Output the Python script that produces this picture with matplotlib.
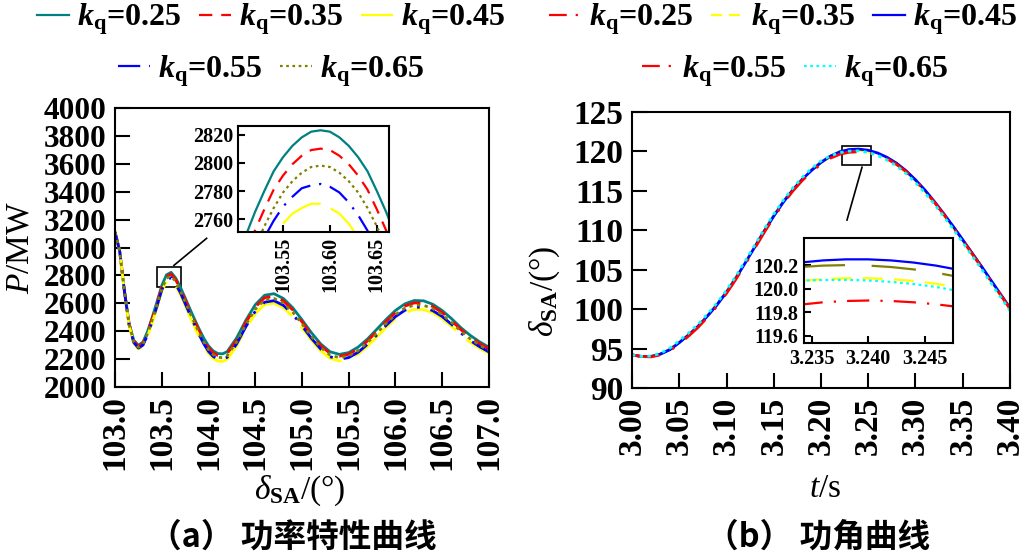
import matplotlib
matplotlib.use('Agg')
import matplotlib.pyplot as plt
from matplotlib.lines import Line2D
from matplotlib.patches import Rectangle

plt.rcParams['font.family'] = ['Liberation Serif', 'Noto Sans CJK SC']
plt.rcParams['mathtext.fontset'] = 'custom'
plt.rcParams['mathtext.rm'] = 'Liberation Serif:bold'
plt.rcParams['mathtext.it'] = 'Liberation Serif:italic'
plt.rcParams['mathtext.bf'] = 'Liberation Serif:italic:bold'

# ---------------- data ----------------
kq = ['0.25', '0.35', '0.45', '0.55', '0.65']

# (a) power characteristic: P (MW) vs delta_SA (deg)
delta_a = [103.00, 103.05, 103.10, 103.15, 103.20, 103.25, 103.30, 103.35, 103.40, 103.45,
           103.50, 103.55, 103.60, 103.65, 103.70, 103.75, 103.80, 103.85, 103.90, 103.95,
           104.00, 104.05, 104.10, 104.15, 104.20, 104.30, 104.40, 104.50, 104.60, 104.70,
           104.80, 104.90, 105.00, 105.10, 105.20, 105.30, 105.40, 105.50, 105.60, 105.70,
           105.80, 105.90, 106.00, 106.10, 106.20, 106.30, 106.40, 106.50, 106.60, 106.70,
           106.80, 106.90, 107.00]
P_025 = [3110, 2977, 2695, 2458, 2336, 2299, 2323, 2402, 2504, 2613, 2727, 2804, 2822, 2780,
         2715, 2639, 2562, 2487, 2415, 2349, 2295, 2259, 2240, 2238, 2254, 2351, 2479, 2590,
         2658, 2669, 2635, 2569, 2482, 2390, 2309, 2253, 2234, 2247, 2286, 2344, 2414, 2485,
         2549, 2596, 2620, 2618, 2593, 2548, 2490, 2425, 2370, 2324, 2285]
P_035 = [3110, 2976, 2692, 2454, 2330, 2291, 2315, 2393, 2494, 2602, 2714, 2791, 2809, 2767,
         2701, 2625, 2548, 2473, 2401, 2335, 2281, 2245, 2226, 2223, 2239, 2336, 2463, 2573,
         2640, 2651, 2618, 2553, 2467, 2376, 2296, 2241, 2221, 2235, 2273, 2330, 2399, 2470,
         2533, 2580, 2603, 2601, 2577, 2533, 2475, 2411, 2357, 2311, 2273]
P_045 = [3110, 2973, 2685, 2442, 2314, 2272, 2293, 2368, 2466, 2571, 2686, 2757, 2768, 2721,
         2661, 2585, 2508, 2433, 2361, 2295, 2241, 2205, 2186, 2183, 2198, 2293, 2418, 2526,
         2591, 2601, 2569, 2507, 2424, 2336, 2259, 2205, 2187, 2199, 2236, 2292, 2359, 2428,
         2489, 2534, 2557, 2555, 2532, 2490, 2435, 2373, 2320, 2277, 2240]
P_055 = [3110, 2974, 2688, 2446, 2320, 2279, 2301, 2377, 2476, 2582, 2696, 2769, 2783, 2738,
         2675, 2599, 2522, 2447, 2375, 2309, 2255, 2219, 2200, 2197, 2213, 2308, 2433, 2543,
         2608, 2619, 2586, 2523, 2439, 2350, 2272, 2217, 2199, 2211, 2249, 2306, 2373, 2442,
         2505, 2550, 2573, 2571, 2547, 2505, 2449, 2387, 2333, 2289, 2251]
P_065 = [3110, 2975, 2690, 2450, 2325, 2285, 2308, 2385, 2485, 2592, 2702, 2779, 2797, 2755,
         2688, 2612, 2535, 2460, 2388, 2322, 2268, 2232, 2213, 2210, 2226, 2322, 2448, 2558,
         2624, 2635, 2602, 2538, 2453, 2363, 2284, 2229, 2210, 2223, 2261, 2318, 2386, 2456,
         2519, 2565, 2588, 2586, 2562, 2519, 2462, 2399, 2345, 2300, 2262]

# (a) inset
delta_in = [103.50, 103.51, 103.52, 103.53, 103.54, 103.55, 103.56, 103.57, 103.58,
            103.59, 103.60, 103.61, 103.62, 103.63, 103.64, 103.65, 103.66, 103.67]
Pin_025 = [2727, 2748, 2765, 2780, 2794, 2804, 2812, 2818, 2822, 2823, 2822, 2818, 2812, 2804, 2794, 2780, 2765, 2748]
Pin_035 = [2714, 2735, 2752, 2767, 2781, 2791, 2799, 2805, 2809, 2810, 2809, 2805, 2799, 2791, 2781, 2767, 2752, 2735]
Pin_045 = [2686, 2705, 2721, 2735, 2747, 2757, 2764, 2768, 2771, 2771, 2768, 2764, 2757, 2747, 2735, 2721, 2705, 2686]
Pin_055 = [2696, 2715, 2732, 2747, 2759, 2769, 2776, 2782, 2784, 2785, 2783, 2779, 2772, 2763, 2752, 2738, 2722, 2704]
Pin_065 = [2702, 2722, 2740, 2755, 2768, 2779, 2787, 2793, 2797, 2798, 2797, 2793, 2787, 2779, 2768, 2755, 2740, 2722]

# (b) power angle curve: delta_SA (deg) vs t (s)
t_b = [3.00, 3.01, 3.02, 3.03, 3.04, 3.05, 3.06, 3.07, 3.08, 3.09, 3.10, 3.11, 3.12, 3.13,
       3.14, 3.15, 3.16, 3.17, 3.18, 3.19, 3.20, 3.21, 3.22, 3.23, 3.24, 3.25, 3.26, 3.27,
       3.28, 3.29, 3.30, 3.31, 3.32, 3.33, 3.34, 3.35, 3.36, 3.37, 3.38, 3.39, 3.40]
d_025 = [94.2, 94.0, 94.0, 94.3, 94.9, 95.8, 96.8, 97.9, 99.2, 100.6, 102.2, 104.0, 105.95,
         107.95, 109.95, 111.85, 113.6, 115.15, 116.5, 117.65, 118.63, 119.41, 119.95, 120.2,
         120.25, 120.1, 119.75, 119.2, 118.45, 117.5, 116.35, 115.05, 113.6, 112.05, 110.43,
         108.75, 107.05, 105.35, 103.6, 101.85, 100.1]
d_035 = [94.2, 94.0, 94.0, 94.3, 94.9, 95.8, 96.8, 97.9, 99.2, 100.6, 102.2, 104.0, 105.95,
         107.95, 109.95, 111.85, 113.6, 115.15, 116.5, 117.65, 118.6, 119.35, 119.85, 120.1,
         120.15, 120.0, 119.65, 119.1, 118.35, 117.4, 116.25, 114.95, 113.5, 111.95, 110.33,
         108.65, 106.95, 105.25, 103.5, 101.75, 100.0]
d_045 = [94.2, 94.0, 94.0, 94.3, 94.85, 95.75, 96.75, 97.85, 99.15, 100.55, 102.15, 103.95,
         105.9, 107.9, 109.9, 111.8, 113.55, 115.1, 116.45, 117.6, 118.6, 119.4, 119.95, 120.25,
         120.3, 120.15, 119.8, 119.25, 118.5, 117.55, 116.4, 115.1, 113.65, 112.1, 110.48,
         108.8, 107.1, 105.4, 103.65, 101.9, 100.15]
d_055 = [94.2, 94.0, 93.95, 94.2, 94.75, 95.6, 96.6, 97.7, 99.0, 100.4, 102.0, 103.8, 105.75,
         107.75, 109.75, 111.65, 113.4, 114.95, 116.3, 117.45, 118.4, 119.15, 119.65, 119.9,
         119.95, 119.85, 119.55, 119.05, 118.35, 117.45, 116.3, 115.0, 113.55, 112.0, 110.38,
         108.7, 107.0, 105.3, 103.55, 101.8, 100.05]
d_065 = [94.2, 94.0, 94.05, 94.4, 95.05, 96.0, 97.0, 98.1, 99.4, 100.8, 102.4, 104.2, 106.15,
         108.15, 110.15, 112.05, 113.8, 115.35, 116.7, 117.85, 118.8, 119.45, 119.85, 120.05,
         120.07, 119.88, 119.49, 118.9, 118.15, 117.2, 116.05, 114.75, 113.3, 111.75, 110.13,
         108.45, 106.75, 105.05, 103.3, 101.55, 99.8]

# (b) inset
t_in = [3.234, 3.236, 3.238, 3.240, 3.242, 3.244, 3.246, 3.248]
din_025 = [120.184, 120.196, 120.200, 120.196, 120.184, 120.164, 120.136, 120.100]
din_035 = [120.066, 120.081, 120.089, 120.089, 120.081, 120.066, 120.042, 120.011]
din_045 = [120.222, 120.240, 120.249, 120.249, 120.240, 120.222, 120.196, 120.160]
din_055 = [119.865, 119.885, 119.896, 119.900, 119.896, 119.885, 119.868, 119.845]
din_065 = [120.068, 120.074, 120.075, 120.070, 120.058, 120.040, 120.015, 119.980]

xticks_a = [103.0, 103.5, 104.0, 104.5, 105.0, 105.5, 106.0, 106.5, 107.0]
yticks_a = [2000, 2200, 2400, 2600, 2800, 3000, 3200, 3400, 3600, 3800, 4000]
xticks_ain = [103.55, 103.60, 103.65]
yticks_ain = [2760, 2780, 2800, 2820]
xticks_b = [3.00, 3.05, 3.10, 3.15, 3.20, 3.25, 3.30, 3.35, 3.40]
yticks_b = [90, 95, 100, 105, 110, 115, 120, 125]
xticks_bin = [3.235, 3.240, 3.245]
yticks_bin = [119.6, 119.8, 120.0, 120.2]

# zoom indicator boxes (data coords) and connector lines
box_a = (103.446, 2719, 0.260, 143)
conn_a = ([103.63, 103.98], [2872, 3066])
box_b = (3.2218, 118.27, 0.0311, 2.43)
conn_b = ([3.2434, 3.2275], [118.0, 111.3])

# ---------------- styles ----------------
sty_a = {
    '0.25': dict(color='#008080', ls='-'),
    '0.35': dict(color='#ff0000', ls=(0, (6, 4))),
    '0.45': dict(color='#ffff00', ls=(0, (20, 5))),
    '0.55': dict(color='#0000ff', ls=(0, (10, 4, 1, 4))),
    '0.65': dict(color='#808000', ls=(0, (1.2, 1.6))),
}
sty_b = {
    '0.25': dict(color='#808000', ls=(0, (20, 12))),
    '0.35': dict(color='#ffff00', ls=(0, (9, 5))),
    '0.45': dict(color='#0000ff', ls='-'),
    '0.55': dict(color='#ff0000', ls=(0, (10, 5, 1, 5))),
    '0.65': dict(color='#00ffff', ls=(0, (1.2, 1.6))),
}
leg_b = {
    '0.25': dict(color='#ff0000', ls=(0, (8, 4, 1, 4))),
    '0.35': dict(color='#ffff00', ls=(0, (5, 3))),
    '0.45': dict(color='#0000ff', ls='-'),
    '0.55': dict(color='#ff0000', ls=(0, (8, 4, 1, 4))),
    '0.65': dict(color='#00ffff', ls=(0, (1.2, 1.6))),
}
LW_MAIN = 2.0
LW_INS = 1.6
TICK_FS = 24
YTICK_FS_A = 22.5
INS_FS = 14.5
LAB_FS = 24

fig = plt.figure(figsize=(10.26, 5.54), dpi=100)
axA = fig.add_axes([0.1121, 0.3014, 0.3645, 0.5036])
axB = fig.add_axes([0.6160, 0.2996, 0.3684, 0.4982])
insA = fig.add_axes([0.2320, 0.5812, 0.1472, 0.1913], zorder=5)
insB = fig.add_axes([0.7836, 0.3809, 0.1452, 0.1895], zorder=5)

def style_axes(ax, length, fs, pad):
    for s in ax.spines.values():
        s.set_linewidth(1.5)
    ax.tick_params(direction='in', length=length, width=1.5, top=False, right=False,
                   labelsize=fs, pad=pad)

# ---- panel (a) ----
series_a = [P_025, P_035, P_045, P_055, P_065]
series_ain = [Pin_025, Pin_035, Pin_045, Pin_055, Pin_065]
for k, P in zip(kq, series_a):
    axA.plot(delta_a, P, lw=LW_MAIN, **sty_a[k])
for k, P in zip(kq, series_ain):
    insA.plot(delta_in, P, lw=LW_INS, **sty_a[k])

axA.set_xlim(103.0, 107.0)
axA.set_ylim(2000, 4000)
style_axes(axA, 11, TICK_FS, 6)
axA.set_xticks(xticks_a)
axA.set_xticklabels([f'{v:.1f}' for v in xticks_a], rotation=90, fontweight='bold',
                    fontsize=TICK_FS)
axA.set_yticks(yticks_a)
axA.set_yticklabels([str(v) for v in yticks_a], fontweight='bold', fontsize=YTICK_FS_A)
axA.set_ylabel(r'$P$/MW', fontsize=LAB_FS)
axA.yaxis.set_label_coords(-0.212, 0.5)
axA.set_xlabel(r'$\delta_{\mathrm{SA}}$/(°)', fontsize=LAB_FS)
axA.xaxis.set_label_coords(0.495, -0.31)
axA.add_patch(Rectangle(box_a[:2], box_a[2], box_a[3], fill=False, ec='black', lw=1.2))
axA.plot(conn_a[0], conn_a[1], color='black', lw=1.2)

insA.set_xlim(103.502, 103.663)
insA.set_ylim(2751, 2826)
insA.set_xticks(xticks_ain)
insA.set_xticklabels([f'{v:.2f}' for v in xticks_ain], rotation=90, fontweight='bold')
insA.set_yticks(yticks_ain)
insA.set_yticklabels([str(v) for v in yticks_ain], fontweight='bold')
style_axes(insA, 5, INS_FS, 3.5)

# ---- panel (b) ----
series_b = [d_025, d_035, d_045, d_055, d_065]
series_bin = [din_025, din_035, din_045, din_055, din_065]
for k, d in zip(kq, series_b):
    axB.plot(t_b, d, lw=LW_MAIN, **sty_b[k])
for k, d in zip(kq, series_bin):
    insB.plot(t_in, d, lw=LW_INS, **sty_b[k])

axB.set_xlim(3.0, 3.4)
axB.set_ylim(90, 125)
style_axes(axB, 11, TICK_FS, 6)
axB.set_xticks(xticks_b)
axB.set_xticklabels([f'{v:.2f}' for v in xticks_b], rotation=90, fontweight='bold')
axB.set_yticks(yticks_b)
axB.set_yticklabels([str(v) for v in yticks_b], fontweight='bold')
axB.set_ylabel(r'$\delta_{\mathrm{SA}}$/(°)', fontsize=LAB_FS)
axB.yaxis.set_label_coords(-0.185, 0.35)
axB.set_xlabel(r'$t$/s', fontsize=LAB_FS)
axB.xaxis.set_label_coords(0.51, -0.31)
axB.add_patch(Rectangle(box_b[:2], box_b[2], box_b[3], fill=False, ec='black', lw=1.2))
axB.plot(conn_b[0], conn_b[1], color='black', lw=1.2)

insB.set_xlim(3.2343, 3.2475)
insB.set_ylim(119.54, 120.43)
insB.set_xticks(xticks_bin)
insB.set_xticklabels([f'{v:.3f}' for v in xticks_bin], fontweight='bold')
insB.set_yticks(yticks_bin)
insB.set_yticklabels([f'{v:.1f}' for v in yticks_bin], fontweight='bold')
style_axes(insB, 5, INS_FS, 4)

# ---- legends ----
leg_kw = dict(loc='center', frameon=False, handlelength=1.0, handletextpad=0.25,
              columnspacing=0.55, borderpad=0, borderaxespad=0,
              prop={'family': 'Liberation Serif', 'weight': 'bold', 'size': 23})
labels = [r'$\mathbf{k}_{\mathrm{q}}$=' + k for k in kq]
prox_a = [Line2D([], [], lw=1.6, **sty_a[k]) for k in kq]
fig.legend(prox_a[:3], labels[:3], ncol=3, bbox_to_anchor=(0.264, 0.965), **leg_kw)
fig.legend(prox_a[3:], labels[3:], ncol=2, bbox_to_anchor=(0.264, 0.872), **leg_kw)
prox_b = [Line2D([], [], lw=1.6, **leg_b[k]) for k in kq]
fig.legend(prox_b[:3], labels[:3], ncol=3, bbox_to_anchor=(0.763, 0.965), **leg_kw)
fig.legend(prox_b[3:], labels[3:], ncol=2, bbox_to_anchor=(0.775, 0.872), **leg_kw)

# ---- captions ----
fig.text(0.2856, 0.031, '（a） 功率特性曲线', ha='center', va='center', fontsize=23.5,
         family=['Noto Sans CJK SC'], fontweight='bold')
fig.text(0.797, 0.031, '（b） 功角曲线', ha='center', va='center', fontsize=23.5,
         family=['Noto Sans CJK SC'], fontweight='bold')

fig.savefig('out.png', dpi=100)
